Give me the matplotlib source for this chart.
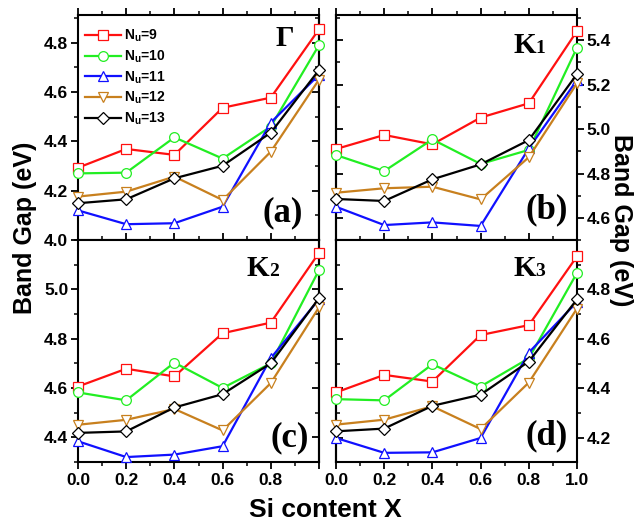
import numpy as np
import matplotlib
matplotlib.use("Agg")
import matplotlib.pyplot as plt
from matplotlib.ticker import MultipleLocator, FixedLocator
from matplotlib import transforms

plt.rcParams['font.family'] = ['Liberation Sans', 'DejaVu Sans']
plt.rcParams['font.weight'] = 'bold'
plt.rcParams['mathtext.fontset'] = 'custom'
plt.rcParams['mathtext.rm'] = 'Liberation Sans:bold'

x = [0.0, 0.2, 0.4, 0.6, 0.8, 1.0]
labels = [r'N$_{\rm u}$=9', r'N$_{\rm u}$=10', r'N$_{\rm u}$=11',
          r'N$_{\rm u}$=12', r'N$_{\rm u}$=13']
colors = ['#ff1010', '#22ee22', '#1010ff', '#c8801e', '#000000']
markers = ['s', 'o', '^', 'v', 'D']

# panel (a) Gamma
gam_9 = [4.293, 4.369, 4.345, 4.536, 4.577, 4.854]
gam_10 = [4.270, 4.273, 4.416, 4.330, 4.460, 4.790]
gam_11 = [4.120, 4.064, 4.068, 4.135, 4.476, 4.670]
gam_12 = [4.176, 4.196, 4.257, 4.162, 4.358, 4.650]
gam_13 = [4.149, 4.165, 4.250, 4.301, 4.435, 4.689]

# panel (b) K1
k1_9 = [4.911, 4.974, 4.932, 5.052, 5.116, 5.440]
k1_10 = [4.884, 4.812, 4.954, 4.844, 4.907, 5.366]
k1_11 = [4.652, 4.570, 4.582, 4.566, 4.914, 5.220]
k1_12 = [4.715, 4.735, 4.742, 4.685, 4.874, 5.206]
k1_13 = [4.687, 4.678, 4.775, 4.842, 4.951, 5.247]

# panel (c) K2
k2_9 = [4.606, 4.678, 4.647, 4.822, 4.865, 5.148]
k2_10 = [4.582, 4.550, 4.703, 4.600, 4.700, 5.078]
k2_11 = [4.384, 4.320, 4.330, 4.364, 4.721, 4.960]
k2_12 = [4.451, 4.471, 4.515, 4.428, 4.620, 4.927]
k2_13 = [4.418, 4.424, 4.521, 4.575, 4.700, 4.964]

# panel (d) K3
k3_9 = [4.384, 4.455, 4.428, 4.616, 4.656, 4.934]
k3_10 = [4.357, 4.352, 4.498, 4.408, 4.522, 4.867]
k3_11 = [4.200, 4.140, 4.142, 4.200, 4.545, 4.750]
k3_12 = [4.254, 4.274, 4.328, 4.236, 4.424, 4.723]
k3_13 = [4.227, 4.238, 4.330, 4.375, 4.509, 4.760]

panel_data = [[gam_9, gam_10, gam_11, gam_12, gam_13],
              [k1_9, k1_10, k1_11, k1_12, k1_13],
              [k2_9, k2_10, k2_11, k2_12, k2_13],
              [k3_9, k3_10, k3_11, k3_12, k3_13]]
ylims = [(4.0, 4.912), (4.503, 5.512), (4.30, 5.20), (4.103, 5.0)]
yticks = [[4.0, 4.2, 4.4, 4.6, 4.8], [4.6, 4.8, 5.0, 5.2, 5.4],
          [4.4, 4.6, 4.8, 5.0], [4.2, 4.4, 4.6, 4.8]]
xtick_labels_c = ['0.0', '0.2', '0.4', '0.6', '0.8', '']
xtick_labels_d = ['0.0', '0.2', '0.4', '0.6', '0.8', '1.0']
letters = ['(a)', '(b)', '(c)', '(d)']
points = [('\u0393', ''), ('K', '1'), ('K', '2'), ('K', '3')]

W, H = 643, 525
fig = plt.figure(figsize=(W / 100, H / 100), dpi=100)
boxes = [(78, 15, 241, 225), (336, 15, 241, 225),
         (78, 240, 241, 222), (336, 240, 241, 222)]

for i in range(4):
    px, py, pw, ph = boxes[i]
    ax = fig.add_axes([px / W, 1 - (py + ph) / H, pw / W, ph / H])
    col = i % 2
    row = i // 2
    for j in range(5):
        ax.plot(x, panel_data[i][j], color=colors[j], marker=markers[j],
                markerfacecolor='white', markeredgecolor=colors[j],
                markersize=7 if markers[j] != 'D' else 6,
                markeredgewidth=0.9, linewidth=1.6, label=labels[j],
                clip_on=False, zorder=3)
    ax.set_xlim(0, 1.0)
    ax.set_ylim(*ylims[i])
    ax.xaxis.set_major_locator(FixedLocator(x))
    ax.xaxis.set_minor_locator(MultipleLocator(0.1))
    ax.yaxis.set_major_locator(FixedLocator(yticks[i]))
    ax.yaxis.set_minor_locator(MultipleLocator(0.1))
    if row == 1:
        ax.set_xticklabels(xtick_labels_c if col == 0 else xtick_labels_d)
    else:
        ax.set_xticklabels([])
    ax.set_yticklabels(['%.1f' % v for v in yticks[i]])
    ax.tick_params(axis='x', which='both', direction='out', top=True,
                   bottom=True, labelsize=12.5, pad=3)
    ax.tick_params(axis='y', which='both', direction='out',
                   left=(col == 0), right=(col == 1),
                   labelleft=(col == 0), labelright=(col == 1),
                   labelsize=12.5, pad=2)
    ax.tick_params(which='major', length=5, width=1.3)
    ax.tick_params(which='minor', length=3, width=1.1)
    for s in ax.spines.values():
        s.set_linewidth(1.5)

    sec = ax.secondary_yaxis('right' if col == 0 else 'left')
    sec.yaxis.set_major_locator(FixedLocator(yticks[i]))
    sec.yaxis.set_minor_locator(MultipleLocator(0.1))
    sec.tick_params(which='both', direction='in', labelleft=False,
                    labelright=False)
    sec.tick_params(which='major', length=5, width=1.3)
    sec.tick_params(which='minor', length=3, width=1.1)
    for s in sec.spines.values():
        s.set_linewidth(1.5)

    # panel letters
    lx = [0.85, 0.875, 0.88, 0.875][i]
    ly = [0.12, 0.133, 0.108, 0.12][i]
    ax.text(lx, ly, letters[i], transform=ax.transAxes, ha='center',
            va='center', fontsize=25, fontweight='bold',
            family='Liberation Serif')

    # k-point labels
    kx = [0.82, 0.735, 0.70, 0.735][i]
    ky = [0.86, 0.83, 0.84, 0.84][i]
    ax.text(kx, ky, points[i][0], transform=ax.transAxes, ha='left',
            va='baseline', fontsize=21, fontweight='bold',
            family='Liberation Serif')
    if points[i][1]:
        tr = transforms.offset_copy(ax.transAxes, fig=fig, x=22, y=0,
                                    units='dots')
        ax.text(kx, ky, points[i][1], transform=tr, ha='left',
                va='baseline', fontsize=14, family='Liberation Serif')

    if i == 0:
        ax.legend(loc='upper left', bbox_to_anchor=(-0.01, 0.985),
                  frameon=False, fontsize=10, handlelength=2.6,
                  handletextpad=0.2, labelspacing=0.3, borderpad=0.2)

fig.text(25 / W, 1 - 228 / H, 'Band Gap (eV)', rotation=90, ha='center',
         va='center', fontsize=18, fontweight='bold')
fig.text(621 / W, 1 - 220 / H, 'Band Gap (eV)', rotation=-90, ha='center',
         va='center', fontsize=18, fontweight='bold')
fig.text(325 / W, 1 - 510 / H, 'Si content X', ha='center', va='center',
         fontsize=19, fontweight='bold')

fig.savefig('out.png', dpi=100)
